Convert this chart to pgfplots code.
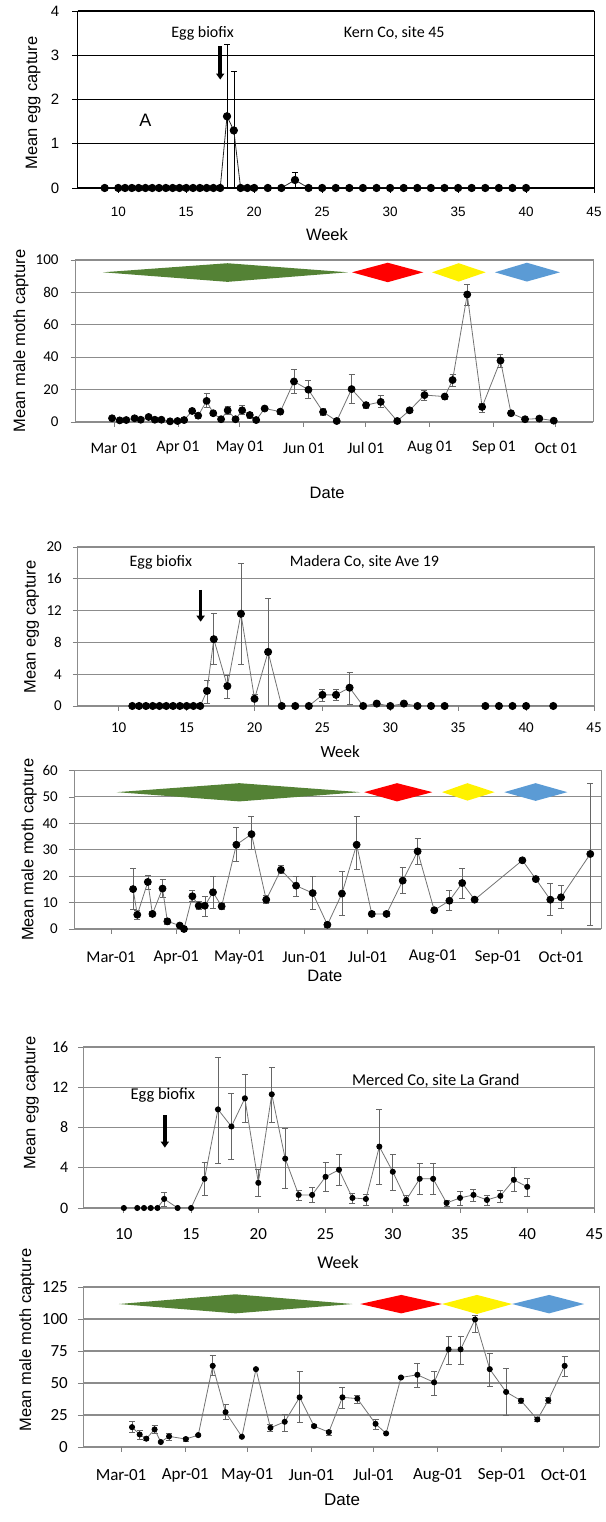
\documentclass[border=0pt]{standalone}
\usepackage{fontspec}
\setmainfont{Carlito}
\newfontfamily\arial{Liberation Sans}
\usepackage{pgfplots}
\pgfplotsset{compat=1.18}
\usetikzlibrary{arrows.meta}
\newcommand{\fs}[1]{\fontsize{#1}{#1}\selectfont}
\definecolor{dgreen}{RGB}{84,130,53}
\definecolor{dblue}{RGB}{91,155,213}
\tikzset{bio/.style={line width=3.5pt, -{Triangle[length=6pt,width=8pt]}, black}}
\pgfplotsset{
  panel/.style={scale only axis, anchor=south west, ymajorgrids, tick align=outside,
    major tick length=5pt, xtick pos=bottom, ytick pos=left,
    /pgf/number format/assume math mode=true,
    yticklabel style={anchor=east, inner sep=0pt},
    xticklabel style={anchor=center, inner sep=0pt},
    ylabel style={anchor=center, font=\arial\fs{16.5}},
    xlabel style={anchor=center, font=\arial\fs{16.5}}},
  gpanel/.style={panel, axis line style={black!45, line width=1pt},
    major grid style={black!45, line width=1.1pt}, tick style={black!50, line width=0.8pt}},
  ebarc/.style={only marks, mark=none, forget plot, error bars/.cd, y dir=both, y explicit,
    error bar style={#1, line width=0.6pt},
    error mark options={rotate=90, mark size=3pt, #1, line width=0.6pt}},
  ebar/.style={ebarc=black!60},
  ser/.style={color=black!55, line width=0.8pt, mark=*, mark size=#1,
    mark options={fill=black, draw=black}},
  dia/.style={fill=#1, draw=none, mark=none, forget plot},
}
\begin{document}
\begin{tikzpicture}[x=1pt,y=1pt]
\path[use as bounding box] (0,0) rectangle (605,1522);

% ---------------- Panel 1: Kern egg
\begin{axis}[panel, at={(77.5pt,1334pt)}, width=516.5pt, height=177pt,
  xmin=7, xmax=45, ymin=0, ymax=4, xtick={10,15,...,45}, ytick={0,1,2,3,4},
  axis line style={black, line width=0.9pt}, major grid style={black, line width=1pt},
  tick style={black, line width=0.8pt},
  xticklabel style={font=\arial\fs{13.5}, yshift=-19pt},
  yticklabel style={font=\arial\fs{15}, xshift=-13pt},
  ylabel={Mean egg capture}, ylabel style={at={(axis description cs:-0.086,0.48)}},
  xlabel={Week}, xlabel style={at={(axis description cs:0.483,-0.266)}}]
\addplot[ebarc=black] coordinates {
 (18,1.62) +- (0,1.63) (18.5,1.30) +- (0,1.33) (23,0.18) +- (0,0.18)};
\addplot[ser=3.7pt, color=black!85] coordinates {
 (9,0) (10,0) (10.5,0) (11,0) (11.5,0) (12,0) (12.5,0) (13,0) (13.5,0) (14,0) (14.5,0)
 (15,0) (15.5,0) (16,0) (16.5,0) (17,0) (17.5,0) (18,1.62) (18.5,1.30) (19,0) (19.5,0)
 (20,0) (21,0) (22,0) (23,0.18) (24,0) (25,0) (26,0) (27,0) (28,0) (29,0) (30,0) (31,0)
 (32,0) (33,0) (34,0) (35,0) (36,0) (37,0) (38,0) (39,0) (40,0)};
\draw[bio] (axis cs:17.5,3.2) -- (axis cs:17.5,2.45);
\node[font=\fs{16}] at (axis cs:16.2,3.5) {Egg biofix};
\node[font=\fs{16}] at (axis cs:30.3,3.5) {Kern Co, site 45};
\node[font=\arial\fs{18}] at (axis cs:12,1.54) {A};
\end{axis}

% ---------------- Panel 2: Kern moth
\begin{axis}[gpanel, at={(75.7pt,1100pt)}, width=517.3pt, height=162pt,
  xmin=-18.5, xmax=232, ymin=0, ymax=100, ytick={0,20,...,100},
  xtick={0,31,61,92,122,153,184,214},
  xticklabels={Mar 01,Apr 01,May 01,Jun 01,Jul 01,Aug 01,Sep 01,Oct 01},
  yticklabel style={font=\fs{15}, xshift=-12pt}, xticklabel style={font=\fs{16}, yshift=-21pt},
  ylabel={Mean male moth capture}, ylabel style={at={(axis description cs:-0.106,0.5)}},
  xlabel={Date}, xlabel style={at={(axis description cs:0.486,-0.438)}}]
\addplot[dia=dgreen] coordinates {(-5.3,92.4) (55,98) (113.3,92.4) (55,86.5) (-5.3,92.4)};
\addplot[dia=red] coordinates {(115.3,92.4) (132.6,98.3) (149.8,92.4) (132.6,86.3) (115.3,92.4)};
\addplot[dia=yellow] coordinates {(154,92.4) (167,98) (180,92.4) (167,86.7) (154,92.4)};
\addplot[dia=dblue] coordinates {(184.5,92.4) (200,98.3) (216,92.4) (200,86.7) (184.5,92.4)};
\addplot[ebar] coordinates {
 (16.8,3.1) +- (0,1) (37.9,6.8) +- (0,1) (40.8,3.9) +- (0,1.5)
 (44.9,13) += (0,4.5) -= (0,4) (48.1,5.4) +- (0,1.5) (55.1,7.2) +- (0,2.5)
 (62.1,7.2) += (0,3.3) -= (0,2.5) (65.8,4.3) +- (0,1.8) (73,8.3) +- (0,0.8)
 (80.6,6.4) +- (0,1.5) (87.2,25) += (0,7.5) -= (0,7) (94.2,19.9) += (0,5.6) -= (0,5.4)
 (101.3,6.2) +- (0,2) (115.1,20.3) += (0,9.2) -= (0,8.8) (122.1,10.4) +- (0,2)
 (129.2,12.4) += (0,4.1) -= (0,3.4) (143.2,7.2) +- (0,1.2) (150.4,16.6) +- (0,3)
 (160.2,15.7) +- (0,1.5) (164,25.9) += (0,3.6) -= (0,3.9) (171.1,78.7) += (0,6.3) -= (0,6.7)
 (178.3,9.3) += (0,2.2) -= (0,3.3) (187.2,37.9) += (0,3.6) -= (0,3.9)
 (192.3,5.4) +- (0,1) (206,2.1) +- (0,0.8)};
\addplot[ser=3.5pt] coordinates {
 (-0.9,2.3) (2.8,1.0) (6.0,1.2) (10,2.3) (13,1.4) (16.8,3.1) (19.8,1.4) (23,1.4)
 (27.2,0.4) (30.8,0.6) (34,1.2) (37.9,6.8) (40.8,3.9) (44.9,13.0) (48.1,5.4) (51.9,1.7)
 (55.1,7.2) (58.9,1.7) (62.1,7.2) (65.8,4.3) (68.9,1.2) (73,8.3) (80.6,6.4) (87.2,25)
 (94.2,19.9) (101.3,6.2) (107.9,0.6) (115.1,20.3) (122.1,10.4) (129.2,12.4) (137.2,0.6)
 (143.2,7.2) (150.4,16.6) (160.2,15.7) (164,25.9) (171.1,78.7) (178.3,9.3) (187.2,37.9)
 (192.3,5.4) (199.1,1.7) (206,2.1) (213,0.8)};
\end{axis}

% ---------------- Panel 3: Madera egg
\begin{axis}[gpanel, at={(78pt,816pt)}, width=516pt, height=159pt,
  xmin=7, xmax=45, ymin=0, ymax=20, xtick={10,15,...,45}, ytick={0,4,...,20},
  tick label style={font=\fs{15}},
  yticklabel style={xshift=-11pt}, xticklabel style={yshift=-17pt},
  ylabel={Mean egg capture}, ylabel style={at={(axis description cs:-0.090,0.497)}},
  xlabel={Week}, xlabel style={font=\fs{17}, at={(axis description cs:0.508,-0.289)}}]
\addplot[ebar] coordinates {
 (16.5,1.9) += (0,1.3) -= (0,1.5) (17,8.4) += (0,3.2) -= (0,3.1) (18,2.5) += (0,1.3) -= (0,1.5)
 (19,11.6) +- (0,6.4) (20,0.9) += (0,0.6) -= (0,0.9) (21,6.8) +- (0,6.8)
 (25,1.4) += (0,0.7) -= (0,0.8) (26,1.4) +- (0,0.7) (27,2.3) += (0,2.0) -= (0,2.1)};
\addplot[ser=3.6pt] coordinates {
 (11,0) (11.5,0) (12,0) (12.5,0) (13,0) (13.5,0) (14,0) (14.5,0) (15,0) (15.5,0) (16,0)
 (16.5,1.9) (17,8.4) (18,2.5) (19,11.6) (20,0.9) (21,6.8) (22,0) (23,0) (24,0) (25,1.4)
 (26,1.4) (27,2.3) (28,0) (29,0.3) (30,0) (31,0.3) (32,0) (33,0) (34,0) (37,0) (38,0)
 (39,0) (40,0) (42,0)};
\draw[bio] (axis cs:16.03,14.6) -- (axis cs:16.03,10.6);
\node[font=\fs{16}] at (axis cs:13.1,18.1) {Egg biofix};
\node[font=\fs{16}] at (axis cs:28.1,18.1) {Madera Co, site Ave 19};
\end{axis}

% ---------------- Panel 4: Madera moth
\begin{axis}[gpanel, at={(74pt,593pt)}, width=527pt, height=158.5pt,
  xmin=-17.6, xmax=233, ymin=0, ymax=60, ytick={0,10,...,60},
  xtick={0,31,61,92,122,153,184,214},
  xticklabels={Mar-01,Apr-01,May-01,Jun-01,Jul-01,Aug-01,Sep-01,Oct-01},
  yticklabel style={font=\fs{15}, xshift=-11pt}, xticklabel style={font=\fs{16.5}, yshift=-23pt},
  ylabel={Mean male moth capture}, ylabel style={at={(axis description cs:-0.085,0.5)}},
  xlabel={Date}, xlabel style={at={(axis description cs:0.476,-0.297)}}]
\addplot[dia=dgreen] coordinates {(2.7,51.8) (61,55.2) (118.6,51.8) (61,48.3) (2.7,51.8)};
\addplot[dia=red] coordinates {(120.4,51.8) (136,55.2) (152.8,51.8) (136,48.3) (120.4,51.8)};
\addplot[dia=yellow] coordinates {(157.4,51.8) (169.5,55.2) (182.4,51.8) (169.5,48.6) (157.4,51.8)};
\addplot[dia=dblue] coordinates {(187,51.8) (201.9,55.2) (217,51.8) (201.9,48.5) (187,51.8)};
\addplot[ebar] coordinates {
 (10.5,15.1) += (0,7.9) -= (0,7.6) (12.5,5.4) +- (0,1.8) (17.5,17.8) += (0,2.7) -= (0,2.8)
 (19.7,5.7) +- (0,1) (24.5,15.3) += (0,3.7) -= (0,3.3) (26.8,2.9) +- (0,1)
 (38.7,12.4) += (0,2.4) -= (0,1.9) (41.7,8.8) +- (0,1.5) (44.6,8.8) += (0,3.7) -= (0,4)
 (48.5,13.9) += (0,6.1) -= (0,5.9) (52.6,8.6) +- (0,1) (59.6,31.9) += (0,6.6) -= (0,6.4)
 (66.8,35.9) += (0,6.6) -= (0,5.9) (73.8,11.1) +- (0,1.5) (80.8,22.4) += (0,1.6) -= (0,1.4)
 (88,16.4) += (0,3.6) -= (0,3.9) (95.9,13.6) += (0,6.4) -= (0,6.1) (102.9,1.6) +- (0,1)
 (109.8,13.4) += (0,8.6) -= (0,8.4) (116.8,31.9) += (0,10.6) -= (0,9.4) (124,5.7) +- (0,1)
 (131,5.7) +- (0,1) (138.7,18.3) += (0,5.2) -= (0,4.8) (145.8,29.4) += (0,4.9) -= (0,4.9)
 (160.9,10.7) += (0,3.8) -= (0,3.7) (167,17.4) += (0,5.6) -= (0,5.9) (195.6,26) +- (0,0.8)
 (208.9,11.1) += (0,6.2) -= (0,6.1) (214,12.0) += (0,4.6) -= (0,4.2) (227.9,28.4) += (0,26.6) -= (0,26.9)};
\addplot[ser=3.5pt] coordinates {
 (10.5,15.1) (12.5,5.4) (17.5,17.8) (19.7,5.7) (24.5,15.3) (26.8,2.9) (32.7,1.3) (34.7,0)
 (38.7,12.4) (41.7,8.8) (44.6,8.8) (48.5,13.9) (52.6,8.6) (59.6,31.9) (66.8,35.9)
 (73.8,11.1) (80.8,22.4) (88,16.4) (95.9,13.6) (102.9,1.6) (109.8,13.4) (116.8,31.9)
 (124,5.7) (131,5.7) (138.7,18.3) (145.8,29.4) (153.7,7.1) (160.9,10.7) (167,17.4)
 (172.9,11.1) (195.6,26) (202,18.9) (208.9,11.1) (214,12.0) (227.9,28.4)};
\end{axis}

% ---------------- Panel 5: Merced egg
\begin{axis}[gpanel, at={(83.5pt,314pt)}, width=511pt, height=161pt,
  xmin=7, xmax=45, ymin=0, ymax=16, xtick={10,15,...,45}, ytick={0,4,...,16},
  yticklabel style={font=\fs{16}, xshift=-10pt}, xticklabel style={font=\fs{17}, yshift=-21pt},
  ylabel={Mean egg capture}, ylabel style={at={(axis description cs:-0.102,0.652)}},
  xlabel={Week}, xlabel style={font=\fs{18}, at={(axis description cs:0.498,-0.335)}}]
\addplot[ebar] coordinates {
 (13,0.9) += (0,0.7) -= (0,0.7) (16,2.9) += (0,1.6) -= (0,1.6) (17,9.8) += (0,5.2) -= (0,5.4)
 (18,8.1) += (0,3.3) -= (0,3.3) (19,10.9) += (0,2.4) -= (0,2.4) (20,2.5) += (0,1.3) -= (0,1.3)
 (21,11.3) += (0,2.7) -= (0,2.8) (22,4.9) += (0,3.0) -= (0,2.9) (23,1.3) +- (0,0.5)
 (24,1.3) += (0,0.8) -= (0,0.7) (25,3.1) += (0,1.4) -= (0,1.4) (26,3.8) += (0,1.5) -= (0,1.5)
 (27,1.0) +- (0,0.5) (28,0.9) += (0,0.5) -= (0,0.6) (29,6.1) += (0,3.7) -= (0,3.7)
 (30,3.6) += (0,1.7) -= (0,1.8) (31,0.8) +- (0,0.5) (32,2.9) += (0,1.5) -= (0,1.5)
 (33,2.9) += (0,1.5) -= (0,1.5) (34,0.5) +- (0,0.3) (35,1.0) += (0,0.7) -= (0,0.7)
 (36,1.3) += (0,0.6) -= (0,0.6) (37,0.8) +- (0,0.5) (38,1.2) += (0,0.6) -= (0,0.6)
 (39,2.8) += (0,1.2) -= (0,1.1) (40,2.1) += (0,0.9) -= (0,0.9)};
\addplot[ser=2.6pt] coordinates {
 (10,0) (11,0) (11.5,0) (12,0) (12.5,0) (13,0.9) (14,0) (15,0) (16,2.9) (17,9.8) (18,8.1)
 (19,10.9) (20,2.5) (21,11.3) (22,4.9) (23,1.3) (24,1.3) (25,3.1) (26,3.8) (27,1.0) (28,0.9)
 (29,6.1) (30,3.6) (31,0.8) (32,2.9) (33,2.9) (34,0.5) (35,1.0) (36,1.3) (37,0.8) (38,1.2)
 (39,2.8) (40,2.1)};
\draw[bio] (axis cs:13.05,9.2) -- (axis cs:13.05,6.0);
\node[font=\fs{16.5}] at (axis cs:12.9,11.2) {Egg biofix};
\node[font=\fs{16.5}] at (axis cs:33.2,12.6) {Merced Co, site La Grand};
\end{axis}

% ---------------- Panel 6: Merced moth
\begin{axis}[gpanel, at={(83pt,75pt)}, width=516pt, height=160pt,
  xmin=-18.4, xmax=231, ymin=0, ymax=125, ytick={0,25,...,125},
  xtick={0,31,61,92,122,153,184,214},
  xticklabels={Mar-01,Apr-01,May-01,Jun-01,Jul-01,Aug-01,Sep-01,Oct-01},
  yticklabel style={font=\fs{17}, xshift=-10pt}, xticklabel style={font=\fs{17}, yshift=-23pt},
  ylabel={Mean male moth capture}, ylabel style={at={(axis description cs:-0.109,0.669)}},
  xlabel={Date}, xlabel style={font=\arial\fs{17}, at={(axis description cs:0.502,-0.331)}}]
\addplot[dia=dgreen] coordinates {(-1.1,111.7) (55.3,119.3) (111.8,111.7) (55.3,104.4) (-1.1,111.7)};
\addplot[dia=red] coordinates {(115.6,111.7) (135.4,118.8) (155.1,111.7) (135.4,104.4) (115.6,111.7)};
\addplot[dia=yellow] coordinates {(155.1,111.7) (172,118.8) (189,111.7) (172,103.9) (155.1,111.7)};
\addplot[dia=dblue] coordinates {(189,111.7) (206.9,118.8) (223.8,111.7) (206.9,104.4) (189,111.7)};
\addplot[ebar] coordinates {
 (5.3,15.5) += (0,4.5) -= (0,4) (9,9.8) += (0,3.2) -= (0,3.8) (12.2,6.5) +- (0,1)
 (16.2,13.7) += (0,3.3) -= (0,3.2) (23.2,8.3) += (0,2.7) -= (0,2.8) (31.3,6.2) +- (0,1.5)
 (37.3,9.3) +- (0,1) (44.3,63.4) += (0,8.1) -= (0,7.4) (50.5,27.2) += (0,6.3) -= (0,5.7)
 (72.2,15) += (0,2.5) -= (0,2.5) (79.1,19.7) += (0,5.8) -= (0,7.2) (86.3,38.8) += (0,20.2) -= (0,19.3)
 (93.3,16.3) +- (0,1.2) (100.4,11.6) += (0,1.6) -= (0,2.6) (107,38.8) += (0,8.2) -= (0,8.3)
 (114.2,37.8) += (0,2.7) -= (0,3.3) (123,18.1) += (0,3.4) -= (0,4.1) (135.3,54.3) +- (0,1)
 (143.2,56.4) += (0,8.6) -= (0,9.4) (151.3,50.5) += (0,9) -= (0,10.5)
 (158.3,76.3) += (0,10.2) -= (0,11.8) (164.1,76.3) += (0,10.2) -= (0,11.8)
 (171.1,99.6) += (0,3) -= (0,10.1) (178.2,60.8) += (0,12.7) -= (0,13.3)
 (186.1,43) += (0,18.5) -= (0,18.5) (193.3,36.2) += (0,1.8) -= (0,2.2)
 (201.2,21.5) += (0,1.5) -= (0,1.5) (206.5,36.5) += (0,2) -= (0,2.5) (214.4,63.4) += (0,7.1) -= (0,7.9)};
\addplot[ser=2.6pt] coordinates {
 (5.3,15.5) (9,9.8) (12.2,6.5) (16.2,13.7) (19.2,3.9) (23.2,8.3) (31.3,6.2) (37.3,9.3)
 (44.3,63.4) (50.5,27.2) (58.4,8.0) (65.2,60.8) (72.2,15) (79.1,19.7) (86.3,38.8)
 (93.3,16.3) (100.4,11.6) (107,38.8) (114.2,37.8) (123,18.1) (128.1,10.6) (135.3,54.3)
 (143.2,56.4) (151.3,50.5) (158.3,76.3) (164.1,76.3) (171.1,99.6) (178.2,60.8) (186.1,43)
 (193.3,36.2) (201.2,21.5) (206.5,36.5) (214.4,63.4)};
\end{axis}
\end{tikzpicture}
\end{document}
